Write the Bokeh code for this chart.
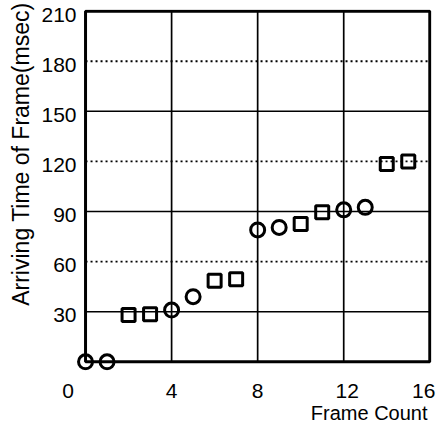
from bokeh.plotting import figure
from bokeh.models import Range1d, FixedTicker, Title
from bokeh.embed import file_html
from bokeh.resources import INLINE

# ---- data ----
circle_x = [0, 1, 4, 5, 8, 9, 12, 13]
circle_y = [0, 0, 31, 39, 79, 80.5, 91, 92.5]
square_x = [2, 3, 6, 7, 10, 11, 14, 15]
square_y = [28, 28.5, 48.5, 49.5, 82.5, 89.5, 118.5, 120]

x_tick_values = [0, 4, 8, 12, 16]
y_tick_values = [30, 60, 90, 120, 150, 180, 210]
x_solid_grid = [4, 8, 12]
y_solid_grid = [30, 90, 150]
y_dotted_grid = [60, 120, 180]
x_label = "Frame Count"
y_label = "Arriving Time of Frame(msec)"

X0, X1, Y0, Y1 = 0, 16, 0, 210

# ---- layout constants (label nudges, in axis units) ----
x_nudge = {0: 0.0, 4: 0.0, 8: 0.0, 12: 0.16, 16: -0.28}
x_pad = {0: "\u00a0" * 6}          # the "0" label sits left of the corner
y_nudge = -2.0
FONT = "Liberation Sans"
TICK_SIZE = "21px"

p = figure(width=444, height=422,
           x_range=Range1d(-0.42, 16.08), y_range=Range1d(-5.2, 211),
           output_backend="svg", toolbar_location=None,
           min_border_left=76, min_border_right=13,
           min_border_top=9, min_border_bottom=52)
p.background_fill_color = "white"
p.border_fill_color = "white"
p.outline_line_color = None
p.grid.visible = False

p.xaxis.ticker = FixedTicker(ticks=[v + x_nudge[v] for v in x_tick_values])
p.xaxis.major_label_overrides = {v + x_nudge[v]: str(v) + x_pad.get(v, "") for v in x_tick_values}
p.yaxis.ticker = FixedTicker(ticks=[v + y_nudge for v in y_tick_values])
p.yaxis.major_label_overrides = {v + y_nudge: str(v) for v in y_tick_values}

for ax in (p.xaxis, p.yaxis):
    ax.axis_line_color = None
    ax.major_tick_in = 0
    ax.major_tick_out = 0
    ax.minor_tick_line_color = None
    ax.major_label_text_font = FONT
    ax.major_label_text_font_size = TICK_SIZE
    ax.major_label_text_color = "black"
p.xaxis.major_label_standoff = 8
p.yaxis.major_label_standoff = 0

# axis titles, right/top aligned as in the reference
xt = Title(text=x_label, align="right", offset=4,
           text_font=FONT, text_font_size="20px", text_font_style="normal",
           text_color="black")
try:
    xt.standoff = -10
except Exception:
    xt.standoff = 0
p.add_layout(xt, "below")
yt = Title(text=y_label, align="right", offset=-7, standoff=9,
           text_font=FONT, text_font_size="23px", text_font_style="normal",
           text_color="black")
p.add_layout(yt, "left")

# grid lines drawn inside the box
p.segment(x0=x_solid_grid, y0=[Y0] * len(x_solid_grid), x1=x_solid_grid, y1=[Y1] * len(x_solid_grid),
          line_color="black", line_width=1.7)
p.segment(x0=[X0] * len(y_solid_grid), y0=y_solid_grid, x1=[X1] * len(y_solid_grid), y1=y_solid_grid,
          line_color="black", line_width=1.5)
p.segment(x0=[X0] * len(y_dotted_grid), y0=y_dotted_grid, x1=[X1] * len(y_dotted_grid), y1=y_dotted_grid,
          line_color="black", line_width=1.8, line_dash="2 3")
# box frame
p.quad(left=[X0], right=[X1], bottom=[Y0], top=[Y1], fill_color=None,
       line_color="black", line_width=3)

# markers
p.scatter(circle_x, circle_y, marker="circle", size=14, fill_color=None,
          line_color="black", line_width=3)
p.scatter(square_x, square_y, marker="square", size=13, fill_color=None,
          line_color="black", line_width=3)

open("out.html", "w").write(file_html(p, INLINE))
